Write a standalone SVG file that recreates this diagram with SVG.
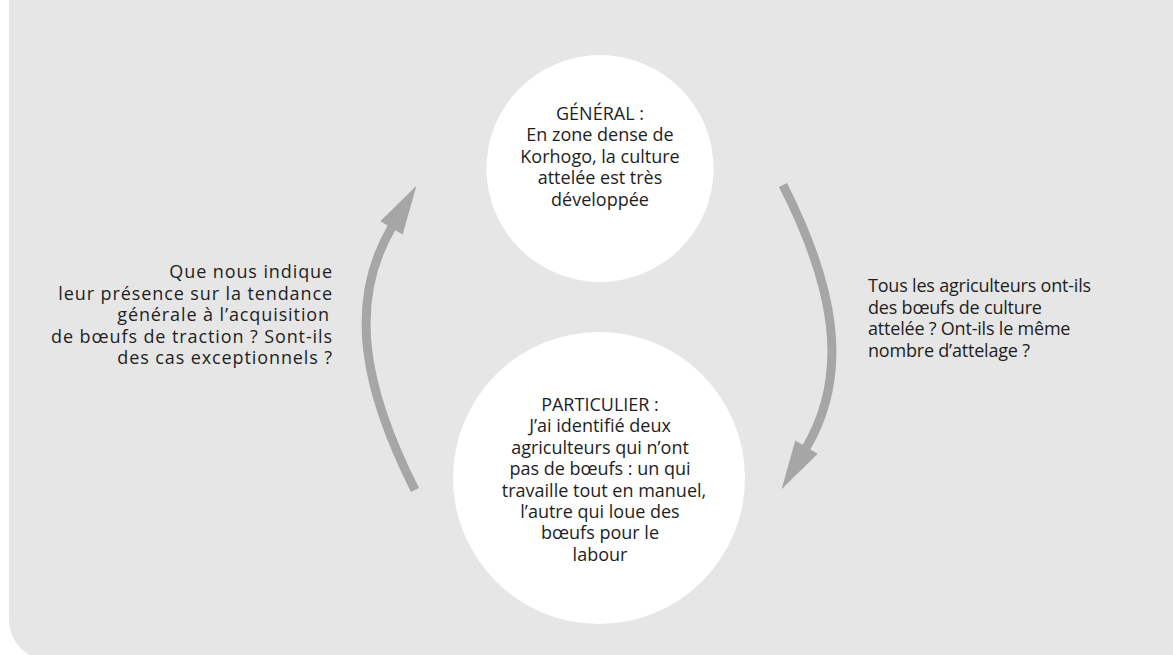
<svg xmlns="http://www.w3.org/2000/svg" width="1173" height="655" viewBox="0 0 1173 655">
<style>
.bg{fill:#e6e6e6}
.node{fill:#ffffff}
.t{font-family:"Open Sans","Noto Sans","Liberation Sans",sans-serif;font-size:18px;fill:#1e1e1e}
.c{text-anchor:middle}
.r{text-anchor:end}
.ls{letter-spacing:0.9px}
.rs{letter-spacing:-0.2px}
.conn{fill:none;stroke:#a6a6a6;stroke-width:9}
</style>
<defs>
<marker id="head" markerUnits="userSpaceOnUse" orient="auto" refX="0" refY="0" markerWidth="60" markerHeight="40" viewBox="0 -20 60 40" overflow="visible">
<path d="M-1,-13 L48,0 L-1,13 z" fill="#a6a6a6"/>
</marker>
</defs>
<rect class="bg" x="9" y="-60" width="1250" height="720" rx="40" ry="40"/>
<g id="connectors">
<path class="conn" d="M415,490 C365.5,392 346.2,304.4 392,227" marker-end="url(#head)"/>
<path class="conn" d="M783,185 C832.5,283 851.8,370.6 806,448" marker-end="url(#head)"/>
</g>
<g id="node-general">
<circle class="node" cx="600" cy="168.5" r="113.5"/>
<text class="t c" x="600" y="119.5">GÉNÉRAL :</text>
<text class="t c" x="600" y="141">En zone dense de</text>
<text class="t c" x="600" y="162.5">Korhogo, la culture</text>
<text class="t c" x="600" y="184">attelée est très</text>
<text class="t c" x="600" y="205.5">développée</text>
</g>
<g id="node-particulier">
<circle class="node" cx="599" cy="478" r="146"/>
<text class="t c" x="600" y="411">PARTICULIER :</text>
<text class="t c" x="600" y="432.4">J’ai identifié deux</text>
<text class="t c" x="600" y="453.8">agriculteurs qui n’ont</text>
<text class="t c" x="600" y="475.2">pas de bœufs : un qui</text>
<text class="t c" x="604" y="496.6">travaille tout en manuel,</text>
<text class="t c" x="600" y="518">l’autre qui loue des</text>
<text class="t c" x="600" y="539.4">bœufs pour le</text>
<text class="t c" x="600" y="560.8">labour</text>
</g>
<g id="label-left">
<text class="t r ls" x="333" y="278">Que nous indique</text>
<text class="t r ls" x="333" y="299.5">leur présence sur la tendance</text>
<text class="t r ls" x="330" y="321">générale à l’acquisition</text>
<text class="t r ls" x="333" y="342.5">de bœufs de traction ? Sont-ils</text>
<text class="t r ls" x="333" y="364">des cas exceptionnels ?</text>
</g>
<g id="label-right">
<text class="t rs" x="868" y="292">Tous les agriculteurs ont-ils</text>
<text class="t rs" x="868" y="313.5">des bœufs de culture</text>
<text class="t rs" x="868" y="335">attelée ? Ont-ils le même</text>
<text class="t rs" x="868" y="356.5">nombre d’attelage ?</text>
</g>
</svg>
